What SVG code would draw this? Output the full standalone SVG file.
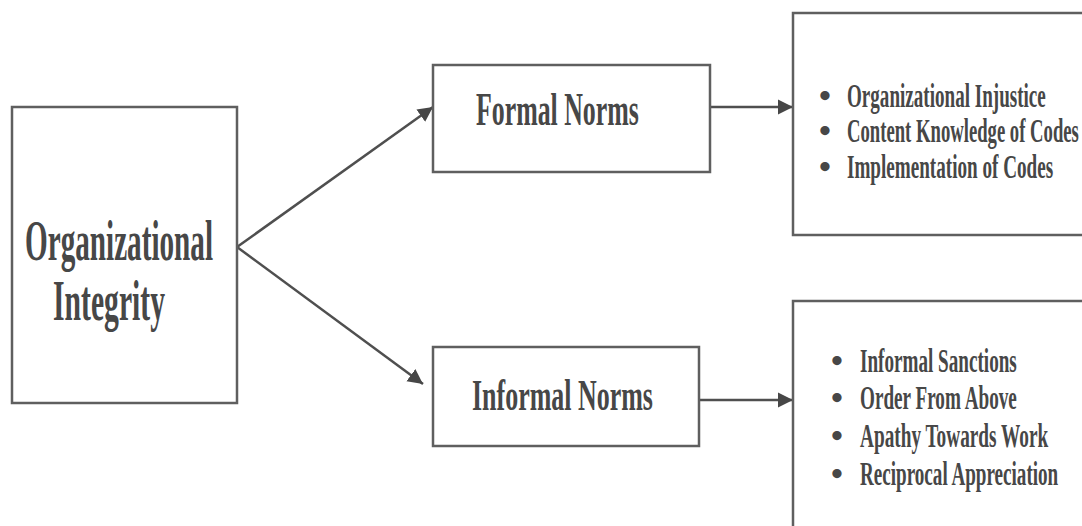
<svg xmlns="http://www.w3.org/2000/svg" width="1082" height="526" viewBox="0 0 1082 526">
  <style>
    .box { fill: #ffffff; stroke: #5f5f5f; stroke-width: 2.5; }
    .lbl { font-family: "Liberation Serif", "Times New Roman", serif; font-weight: bold; fill: #474747; }
    .item { font-family: "Liberation Serif", "Times New Roman", serif; font-weight: bold; fill: #474747; font-size: 34px; }
    .bul { font-family: "Liberation Serif", "Times New Roman", serif; font-weight: bold; fill: #474747; font-size: 34px; }
    .conn { stroke: #4f4f4f; stroke-width: 2.5; fill: none; marker-end: url(#head); }
  </style>
  <defs>
    <marker id="head" viewBox="0 0 10 10" refX="10" refY="5" markerUnits="userSpaceOnUse" markerWidth="15" markerHeight="17" orient="auto">
      <path d="M0,0 L10,5 L0,10 z" fill="#474747"/>
    </marker>
  </defs>
  <rect width="1082" height="526" fill="#ffffff"/>

  <g id="connectors">
    <line class="conn" x1="237" y1="247" x2="433" y2="107"/>
    <line class="conn" x1="237" y1="247" x2="423" y2="384"/>
    <line class="conn" x1="710" y1="107" x2="793" y2="107"/>
    <line class="conn" x1="699" y1="400" x2="793" y2="400"/>
  </g>

  <!-- labels use a condensed face: bold serif squeezed horizontally -->
  <g id="organizational-integrity">
    <rect class="box" x="12" y="107" width="225" height="296"/>
    <text class="lbl" transform="translate(25,260) scale(0.5,1)" font-size="58" textLength="376" lengthAdjust="spacingAndGlyphs">Organizational</text>
    <text class="lbl" transform="translate(53,320) scale(0.5,1)" font-size="58" textLength="224" lengthAdjust="spacingAndGlyphs">Integrity</text>
  </g>

  <g id="formal-norms">
    <rect class="box" x="433" y="65" width="277" height="107"/>
    <text class="lbl" transform="translate(476,125) scale(0.55,1)" font-size="47" textLength="296" lengthAdjust="spacingAndGlyphs">Formal Norms</text>
  </g>

  <g id="informal-norms">
    <rect class="box" x="433" y="347" width="266" height="99"/>
    <text class="lbl" transform="translate(472,410) scale(0.56,1)" font-size="45" textLength="323" lengthAdjust="spacingAndGlyphs">Informal Norms</text>
  </g>

  <!-- the two list boxes run on past the right edge of the page -->
  <g id="formal-items">
    <path class="box" d="M1082,13 H793 V235 H1082"/>
    <text class="bul" x="819" y="107">•</text>
    <text class="item" transform="translate(847,107) scale(0.56,1)" textLength="355" lengthAdjust="spacingAndGlyphs">Organizational Injustice</text>
    <text class="bul" x="819" y="142">•</text>
    <text class="item" transform="translate(847,142) scale(0.56,1)" textLength="414" lengthAdjust="spacingAndGlyphs">Content Knowledge of Codes</text>
    <text class="bul" x="819" y="178">•</text>
    <text class="item" transform="translate(847,178) scale(0.56,1)" textLength="368" lengthAdjust="spacingAndGlyphs">Implementation of Codes</text>
  </g>

  <g id="informal-items">
    <path class="box" d="M1082,301 H793 V526"/>
    <text class="bul" x="831" y="372">•</text>
    <text class="item" transform="translate(860,372) scale(0.56,1)" textLength="280" lengthAdjust="spacingAndGlyphs">Informal Sanctions</text>
    <text class="bul" x="831" y="409">•</text>
    <text class="item" transform="translate(860,409) scale(0.56,1)" textLength="280" lengthAdjust="spacingAndGlyphs">Order From Above</text>
    <text class="bul" x="831" y="447">•</text>
    <text class="item" transform="translate(860,447) scale(0.56,1)" textLength="336" lengthAdjust="spacingAndGlyphs">Apathy Towards Work</text>
    <text class="bul" x="831" y="485">•</text>
    <text class="item" transform="translate(860,485) scale(0.56,1)" textLength="354" lengthAdjust="spacingAndGlyphs">Reciprocal Appreciation</text>
  </g>
</svg>
